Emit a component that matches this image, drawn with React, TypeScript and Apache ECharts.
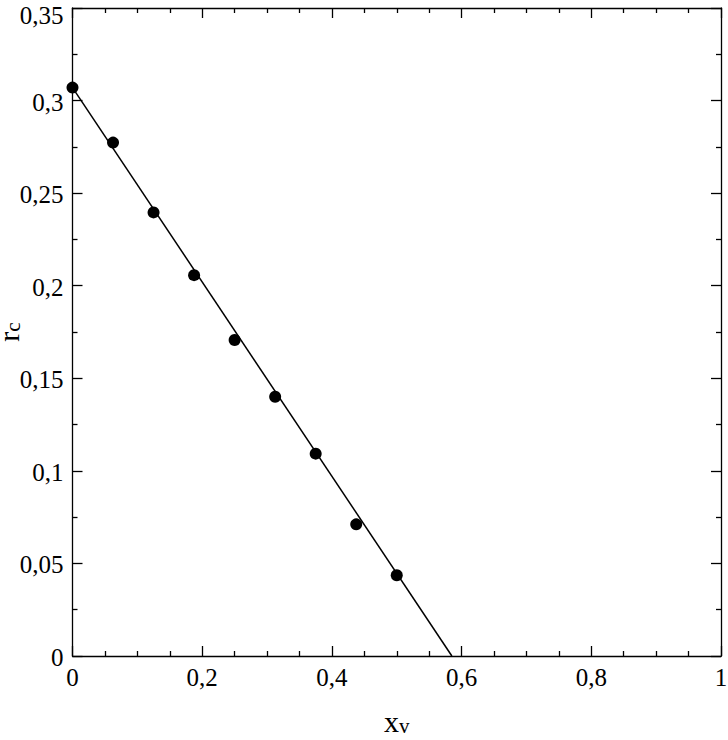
import React, { useEffect, useRef } from "react";
import * as echarts from "echarts";

const xValues = [0, 0.0625, 0.125, 0.1875, 0.25, 0.3125, 0.375, 0.4375, 0.5];
const yValues = [0.307, 0.2773, 0.2396, 0.2057, 0.1707, 0.140, 0.1093, 0.0711, 0.0436];
const fitLineX = [0, 0.585];
const fitLineY = [0.307, 0];

const FONT = "'Liberation Serif', 'Times New Roman', serif";

const fmt = (v: number) => String(Math.round(v * 1000) / 1000).replace(".", ",");

export default function App() {
  const ref = useRef<HTMLDivElement>(null);
  useEffect(() => {
    document.body.style.margin = "0";
    if (!ref.current) return;
    const chart = echarts.init(ref.current, undefined, { renderer: "svg" });
    const axisCommon = {
      axisLine: { show: true, onZero: false, lineStyle: { color: "#000", width: 1.3 } },
      axisTick: { show: true, inside: true, length: 10, lineStyle: { color: "#000", width: 1.3 } },
      minorTick: { show: true, length: 5, lineStyle: { color: "#000", width: 1.3 } },
      splitLine: { show: false },
    };
    const nameRich = {
      a: { fontFamily: FONT, fontSize: 30, color: "#000" },
      b: { fontFamily: FONT, fontSize: 21, color: "#000", verticalAlign: "bottom", padding: [8, 0, 0, 0] },
    };
    chart.setOption({
      animation: false,
      backgroundColor: "#fff",
      textStyle: { fontFamily: FONT },
      grid: { left: 72.5, right: 7, top: 8, bottom: 84, containLabel: false, outerBoundsMode: "none" },
      xAxis: [
        {
          type: "value",
          min: 0,
          max: 1,
          interval: 0.2,
          position: "bottom",
          ...axisCommon,
          minorTick: { ...axisCommon.minorTick, splitNumber: 4 },
          axisLabel: { formatter: fmt, color: "#000", fontFamily: FONT, fontSize: 25, margin: 9 },
          name: "{a|x}{b|v}",
          nameLocation: "middle",
          nameGap: 50,
          nameMoveOverlap: false,
          nameTextStyle: { rich: nameRich },
        },
        {
          type: "value",
          min: 0,
          max: 1,
          interval: 0.2,
          position: "top",
          ...axisCommon,
          minorTick: { ...axisCommon.minorTick, splitNumber: 4 },
          axisLabel: { show: false },
        },
      ],
      yAxis: [
        {
          type: "value",
          min: 0,
          max: 0.35,
          interval: 0.05,
          position: "left",
          ...axisCommon,
          minorTick: { ...axisCommon.minorTick, splitNumber: 2 },
          axisLabel: {
            formatter: (v: number) => (Math.abs(v - 0.35) < 1e-9 ? "{t|" + fmt(v) + "}" : "{n|" + fmt(v) + "}"),
            color: "#000",
            fontFamily: FONT,
            fontSize: 25,
            margin: 9,
            rich: {
              n: { fontFamily: FONT, fontSize: 25, color: "#000", padding: [3, 0, 0, 0] },
              t: { fontFamily: FONT, fontSize: 25, color: "#000", padding: [14, 0, 0, 0] },
            },
          },
          name: "{a|r}{b|c}",
          nameLocation: "middle",
          nameRotate: 90,
          nameGap: 49,
          nameMoveOverlap: false,
          nameTextStyle: { rich: nameRich },
        },
        {
          type: "value",
          min: 0,
          max: 0.35,
          interval: 0.05,
          position: "right",
          ...axisCommon,
          minorTick: { ...axisCommon.minorTick, splitNumber: 2 },
          axisLabel: { show: false },
        },
      ],
      series: [
        {
          type: "line",
          data: fitLineX.map((x, i) => [x, fitLineY[i]]),
          showSymbol: false,
          symbol: "none",
          lineStyle: { color: "#000", width: 1.5 },
          clip: false,
        },
        {
          type: "scatter",
          data: xValues.map((x, i) => [x, yValues[i]]),
          symbol: "circle",
          symbolSize: 12,
          itemStyle: { color: "#000", opacity: 1 },
          clip: false,
        },
      ],
    });
    return () => chart.dispose();
  }, []);
  return <div ref={ref} style={{ width: 728, height: 740 }} />;
}
